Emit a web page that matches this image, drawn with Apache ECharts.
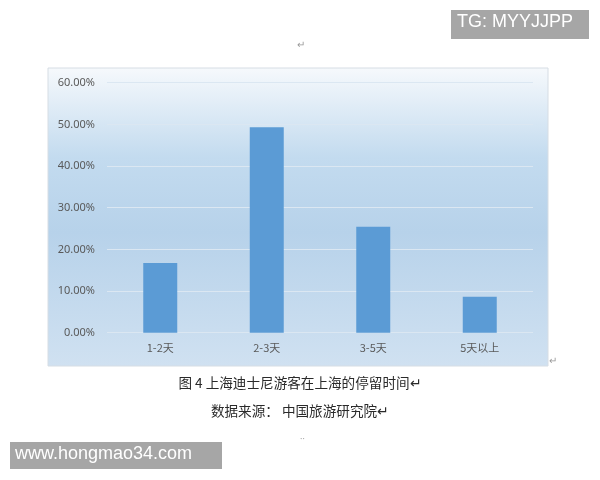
<!DOCTYPE html>
<html><head><meta charset="utf-8">
<script src="https://cdn.jsdelivr.net/npm/echarts@6/dist/echarts.min.js"></script>
<style>html,body{margin:0;padding:0;background:#fff}#c{width:600px;height:480px}</style>
</head><body><div id="c"></div>
<script>
var categories = ['1-2天', '2-3天', '3-5天', '5天以上'];
var shares = [16.7, 49.3, 25.4, 8.6];
var yTicks = [0, 10, 20, 30, 40, 50, 60];
var caption = '图 4 上海迪士尼游客在上海的停留时间';
var source = '数据来源： 中国旅游研究院';

var chart = echarts.init(document.getElementById('c'));
var cjk = '"Noto Sans CJK SC", "Noto Sans", sans-serif';
chart.setOption({
  backgroundColor: '#ffffff',
  animation: false,
  grid: {left: 107, right: 67, top: 82.7, bottom: 147.3},
  xAxis: {
    type: 'category', data: categories,
    axisLine: {show: false}, axisTick: {show: false},
    axisLabel: {color: '#595959', fontSize: 11, fontFamily: cjk, margin: 10}
  },
  yAxis: {
    type: 'value', min: yTicks[0], max: yTicks[yTicks.length - 1], interval: 10,
    axisLine: {show: false}, axisTick: {show: false},
    axisLabel: {color: '#595959', fontSize: 11, fontFamily: '"Noto Sans", sans-serif', margin: 12,
      formatter: function (v) { return v.toFixed(2) + '%'; }},
    splitLine: {lineStyle: {color: '#dbe7f2', width: 1}}
  },
  series: [{
    type: 'bar', data: shares, barWidth: 34,
    itemStyle: {color: '#5b9bd5'}
  }],
  graphic: [
    {type: 'rect', z: -100, shape: {x: 48, y: 68, width: 500, height: 298},
      style: {stroke: '#d6dde4', lineWidth: 1,
        fill: new echarts.graphic.LinearGradient(0, 0, 0, 1, [
          {offset: 0, color: '#f6f9fc'},
          {offset: 0.3, color: '#c3dbef'},
          {offset: 0.55, color: '#b7d2ea'},
          {offset: 1, color: '#d0e1f1'}
        ])}},
    {type: 'text', left: 297, top: 40, style: {text: '↵', fill: '#999', fontSize: 10}},
    {type: 'text', left: 549, top: 356, style: {text: '↵', fill: '#999', fontSize: 10}},
    {type: 'text', left: 300, top: 432, style: {text: '‥', fill: '#aaa', fontSize: 9}},
    {type: 'text', left: 'center', top: 376, style: {text: caption + '↵', fill: '#2a2a2a', fontSize: 13.6, fontFamily: cjk}},
    {type: 'text', left: 'center', top: 404, style: {text: source + '↵', fill: '#2a2a2a', fontSize: 13.6, fontFamily: cjk}},
    {type: 'rect', shape: {x: 451, y: 10, width: 138, height: 29}, style: {fill: '#a6a6a6'}},
    {type: 'text', left: 457, top: 13, style: {text: 'TG: MYYJJPP', fill: '#ffffff', fontSize: 18, fontFamily: '"Liberation Sans", Arial, sans-serif'}},
    {type: 'rect', shape: {x: 10, y: 442, width: 212, height: 27}, style: {fill: '#a6a6a6'}},
    {type: 'text', left: 15, top: 445, style: {text: 'www.hongmao34.com', fill: '#ffffff', fontSize: 18, fontFamily: '"Liberation Sans", Arial, sans-serif'}}
  ]
});
</script></body></html>
